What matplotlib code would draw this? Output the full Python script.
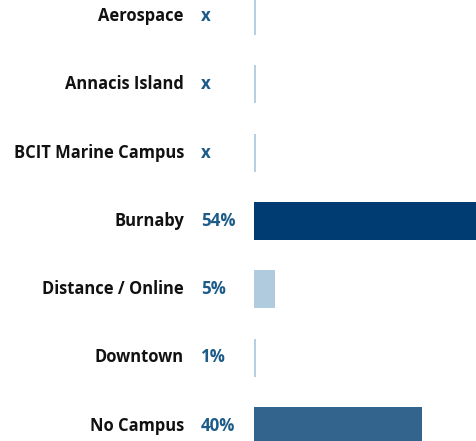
import matplotlib
matplotlib.use("Agg")
import matplotlib.pyplot as plt

categories = ["Aerospace", "Annacis Island", "BCIT Marine Campus", "Burnaby",
              "Distance / Online", "Downtown", "No Campus"]
values = [0, 0, 0, 54, 5, 0.5, 40]
value_labels = ["x", "x", "x", "54%", "5%", "1%", "40%"]
bar_colors = ["#b7cfe0", "#b7cfe0", "#b7cfe0", "#003c71", "#afcbdd", "#b7cfe0", "#33648e"]

W, H = 476, 441
fig = plt.figure(figsize=(W / 100, H / 100), dpi=100)
left_px = 254
ax = fig.add_axes([left_px / W, 0, (W - left_px) / W, 1])

row_px = 68.3
first_px = 16
bar_h = 38 / row_px
n = len(categories)
ys = list(range(n))

ax.vlines([0.12] * n, [y - bar_h / 2 for y in ys], [y + bar_h / 2 for y in ys],
          colors="#b7cfe0", linewidth=1.45, zorder=1)
ax.barh(ys, values, height=bar_h, color=bar_colors, align="center", zorder=2)

ax.set_xlim(0, (W - left_px) / 4.2)
ax.set_ylim(n - 1 + (H - (first_px + row_px * (n - 1))) / row_px, -first_px / row_px)
ax.axis("off")

font = "Open Sans"
for y, cat, lab in zip(ys, categories, value_labels):
    ax.annotate(cat, xy=(0, y), xytext=(-70, 0), textcoords="offset pixels",
                ha="right", va="center", fontsize=11.9, fontweight="bold",
                color="#111111", family=font, annotation_clip=False)
    ax.annotate(lab, xy=(0, y), xytext=(-53, 0), textcoords="offset pixels",
                ha="left", va="center", fontsize=12.2, fontweight="bold",
                color="#1d5c88", family=font, annotation_clip=False)

fig.savefig("out.png", dpi=100)
